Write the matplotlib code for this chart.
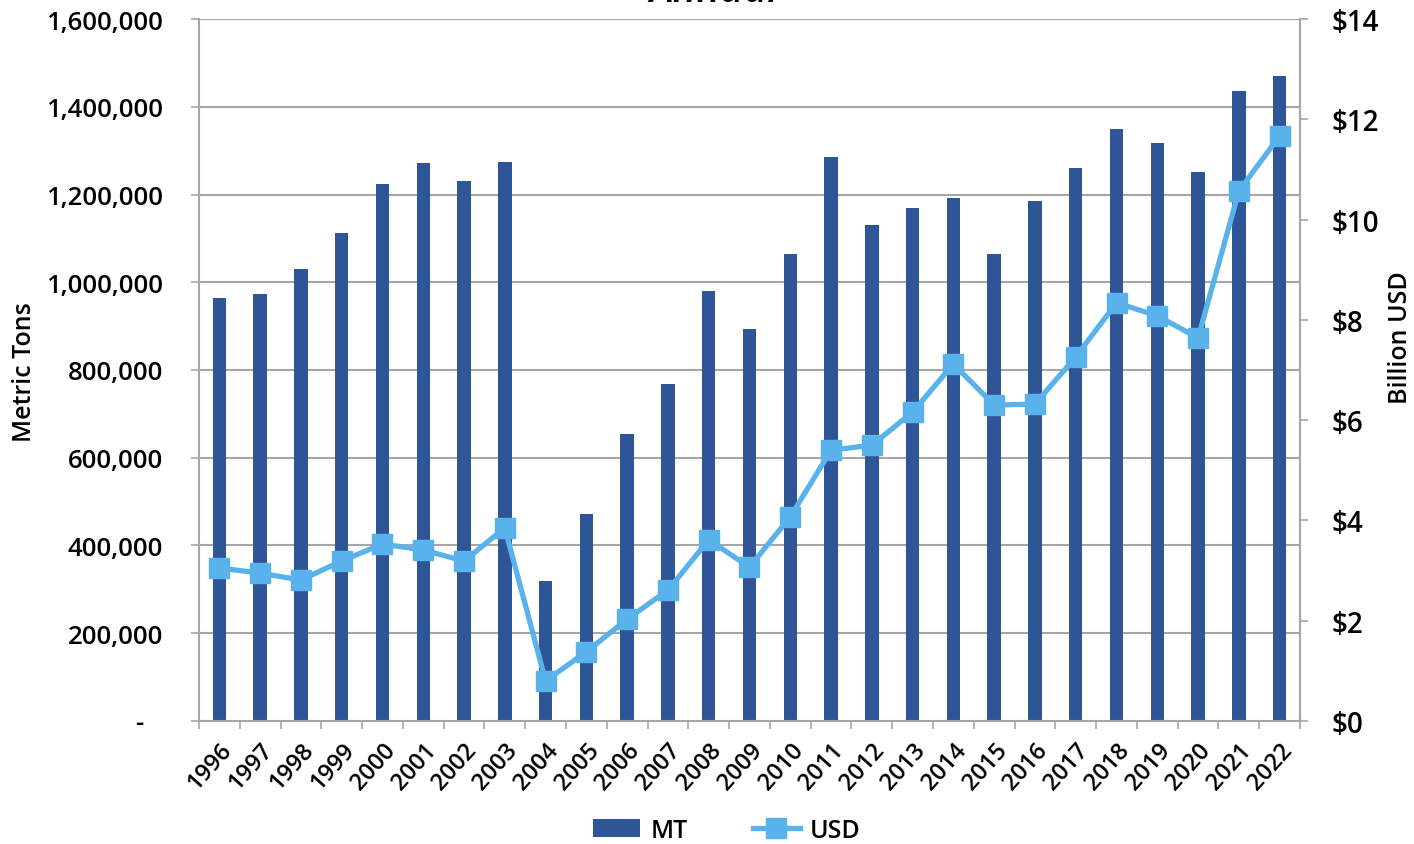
import matplotlib.pyplot as plt
from matplotlib.ticker import FuncFormatter
import numpy as np

plt.rcParams["font.family"] = ["Open Sans", "DejaVu Sans"]

years = [str(y) for y in range(1996, 2023)]
mt = [964000, 973000, 1030000, 1112000, 1224000, 1272000, 1231000, 1274000,
      319000, 472000, 654000, 768000, 980000, 893000, 1064000, 1285000,
      1130000, 1169000, 1192000, 1064000, 1185000, 1260000, 1349000, 1317000,
      1251000, 1436000, 1470000]
usd = [3.05, 2.95, 2.81, 3.19, 3.53, 3.41, 3.19, 3.85, 0.80, 1.38, 2.03, 2.61,
       3.61, 3.07, 4.07, 5.40, 5.50, 6.16, 7.12, 6.30, 6.32, 7.26, 8.34, 8.08,
       7.64, 10.57, 11.67]

bar_color = "#2E5596"
line_color = "#5AB2EC"
grid_color = "#A6A6A6"

fig = plt.figure(figsize=(14.14, 8.45), dpi=100)
ax = fig.add_axes([0.1407, 0.1456, 0.7787, 0.8307])
x = np.arange(len(years))

bars = ax.bar(x, mt, width=0.33, color=bar_color, zorder=2, label="MT")
ax.set_xlim(-0.5, len(years) - 0.5)
ax.set_ylim(0, 1600000)
ax.set_yticks(np.arange(0, 1600001, 200000))
ax.yaxis.set_major_formatter(FuncFormatter(lambda v, p: "-  \u2009" if v == 0 else f"{int(v):,}"))
ax.yaxis.grid(True, color=grid_color, linewidth=1.5, zorder=0)
ax.set_axisbelow(True)

ax.set_xticks(x)
ax.set_xticklabels(years, rotation=48, ha="right", rotation_mode="anchor")
ax.set_xticks(np.arange(-0.5, len(years), 1), minor=True)
ax.tick_params(axis="x", which="major", length=0, pad=12, labelsize=17)
ax.tick_params(axis="x", which="minor", length=6, width=1.2, color=grid_color)
ax.tick_params(axis="y", length=6, width=1.2, color=grid_color, labelsize=18.5, pad=20)
ax.spines["top"].set_visible(False)
for s in ["left", "bottom", "right"]:
    ax.spines[s].set_color(grid_color)
    ax.spines[s].set_linewidth(1.5)
for lbl in ax.get_xticklabels() + ax.get_yticklabels():
    lbl.set_fontweight("semibold")
ax.set_ylabel("Metric Tons", fontsize=18, fontweight="semibold", va="center")
ax.yaxis.set_label_coords(-0.158, 0.499)

ax2 = ax.twinx()
ax2.plot(x, usd, color=line_color, linewidth=3.8, marker="s", markersize=14,
         zorder=3, label="USD")
ax2.set_ylim(0, 14)
ax2.set_yticks(np.arange(0, 15, 2))
ax2.yaxis.set_major_formatter(FuncFormatter(lambda v, p: f"${int(v)}"))
ax2.tick_params(axis="y", length=6, width=1.2, color=grid_color, labelsize=20, pad=17)
for lbl in ax2.get_yticklabels():
    lbl.set_fontweight("semibold")
ax2.set_ylabel("Billion USD", fontsize=18, fontweight="semibold", va="center")
ax2.yaxis.set_label_coords(1.091, 0.548)
for s in ["top", "left", "bottom"]:
    ax2.spines[s].set_visible(False)
ax2.spines["right"].set_color(grid_color)
ax2.spines["right"].set_linewidth(1.5)

fig.text(0.505, 0.9975, "Annual", ha="center", va="baseline", fontsize=29,
         style="italic", fontweight="semibold")

handles = [bars, ax2.get_lines()[0]]
fig.legend(handles, ["MT", "USD"], loc="lower center", ncol=2, frameon=False,
           prop={"weight": "semibold", "size": 18},
           bbox_to_anchor=(0.514, -0.025), columnspacing=2.6, handlelength=1.9,
           handletextpad=0.4)

fig.savefig("out.png", dpi=100)
